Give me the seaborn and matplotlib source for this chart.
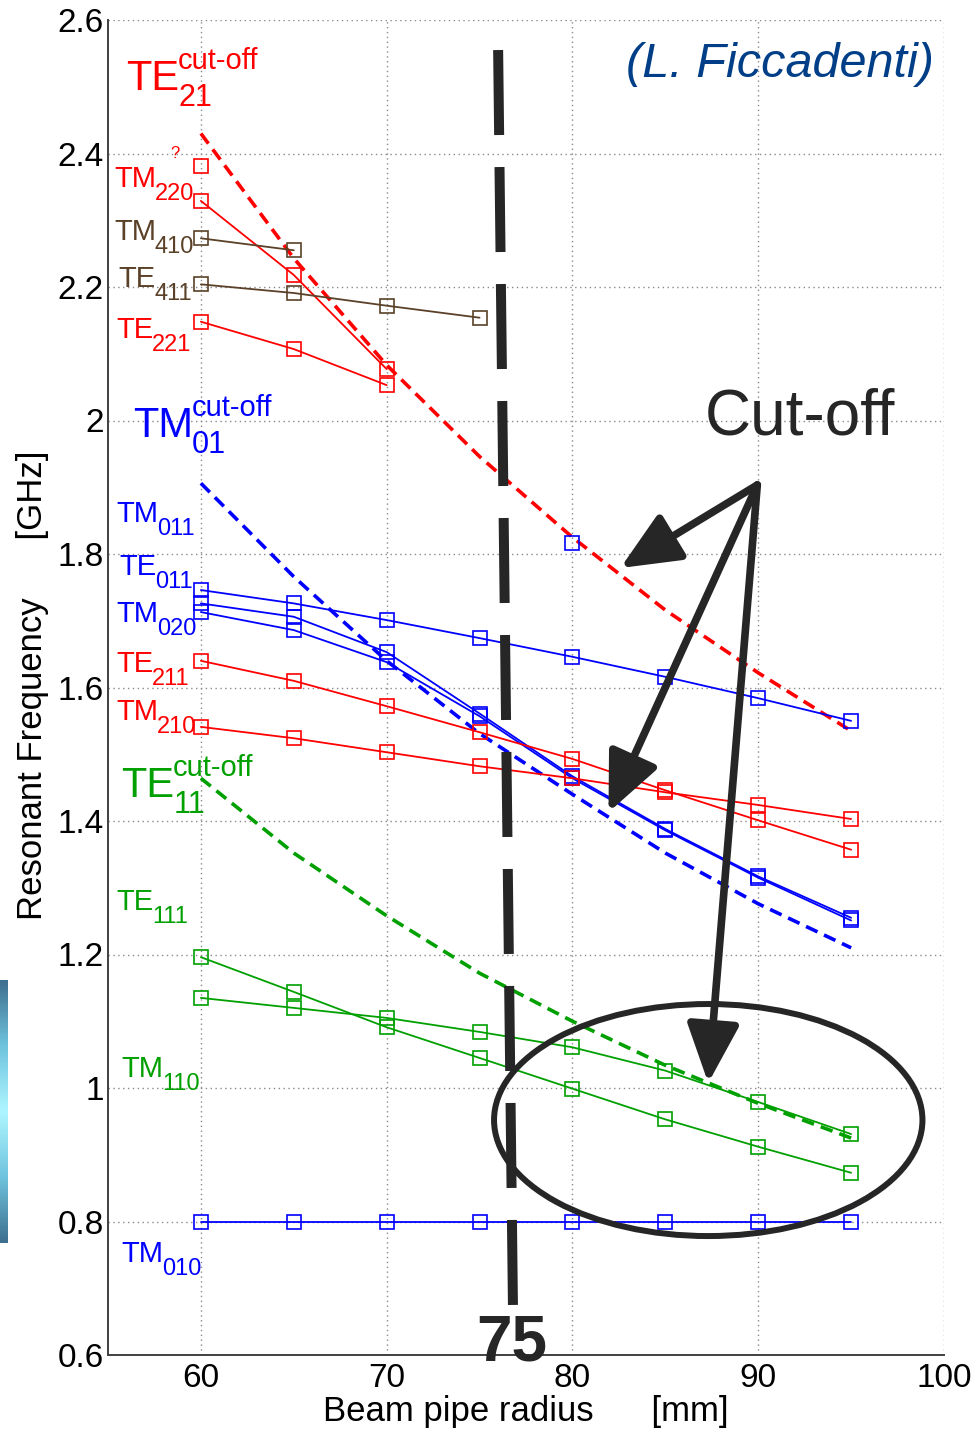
import numpy as np
import pandas as pd
import matplotlib
matplotlib.use("Agg")
import matplotlib.pyplot as plt
import matplotlib.transforms as mtrans
import seaborn as sns
from matplotlib.patches import Ellipse
from matplotlib.colors import LinearSegmentedColormap

# ---------------- data ----------------
radius = [60, 65, 70, 75, 80, 85, 90, 95]

cut_te21 = [2.430, 2.243, 2.083, 1.946, 1.825, 1.716, 1.622, 1.535]
cut_tm01 = [1.906, 1.766, 1.640, 1.531, 1.440, 1.352, 1.276, 1.210]
cut_te11 = [1.464, 1.352, 1.258, 1.172, 1.100, 1.034, 0.977, 0.925]

tm220_r = [60, 65, 70]
tm220 = [2.329, 2.218, 2.077]
tm220_q_r = [60]
tm220_q = [2.382]
tm410_r = [60, 65]
tm410 = [2.273, 2.255]
te411_r = [60, 65, 70, 75]
te411 = [2.204, 2.191, 2.172, 2.154]
te221_r = [60, 65, 70]
te221 = [2.148, 2.107, 2.053]
tm011_r = [80]
tm011 = [1.816]

blue_a = [1.746, 1.726, 1.701, 1.674, 1.646, 1.616, 1.584, 1.550]
blue_b = [1.726, 1.706, 1.653, 1.561, 1.467, 1.388, 1.317, 1.255]
blue_c = [1.713, 1.686, 1.638, 1.557, 1.464, 1.386, 1.315, 1.251]
te211 = [1.640, 1.610, 1.572, 1.533, 1.493, 1.446, 1.401, 1.357]
tm210 = [1.541, 1.524, 1.503, 1.482, 1.464, 1.443, 1.424, 1.403]
te111 = [1.196, 1.144, 1.091, 1.045, 0.999, 0.953, 0.912, 0.873]
tm110 = [1.135, 1.120, 1.105, 1.084, 1.061, 1.026, 0.979, 0.931]
tm010 = [0.800, 0.800, 0.800, 0.800, 0.800, 0.800, 0.800, 0.800]

marker_x = [76.0, 76.8]
marker_y = [2.555, 0.668]

x_ticks = [60, 70, 80, 90, 100]
y_ticks = [0.6, 0.8, 1.0, 1.2, 1.4, 1.6, 1.8, 2.0, 2.2, 2.4, 2.6]
y_ticklabels = ["0.6", "0.8", "1", "1.2", "1.4", "1.6", "1.8", "2", "2.2", "2.4", "2.6"]

RED = "#ff0000"
BLUE = "#0000ff"
GREEN = "#00a000"
BROWN = "#5a4128"
DARK = "#262626"

sns.set_theme(style="white")
plt.rcParams["font.family"] = ["Liberation Sans", "DejaVu Sans"]

fig = plt.figure(figsize=(9.8, 14.32), dpi=100)
ax = fig.add_axes([108 / 980, 1 - 1355 / 1432, (944 - 108) / 980, (1355 - 20) / 1432])

mk = dict(marker="s", markerfacecolor="none", markersize=9.5, markeredgewidth=1.2)


def mode(xs, ys, color, lw=1.3):
    sns.lineplot(x=xs, y=ys, ax=ax, color=color, lw=lw, markeredgecolor=color,
                 legend=False, **mk)


def cutoff(ys, color, lw=2.6):
    sns.lineplot(x=radius, y=ys, ax=ax, color=color, lw=lw, legend=False,
                 linestyle=(0, (3.5, 2.0)))


cutoff(cut_te21, RED)
cutoff(cut_tm01, BLUE)
cutoff(cut_te11, GREEN)

mode(tm220_r, tm220, RED)
ax.plot(tm220_q_r, tm220_q, color=RED, linestyle="none", markeredgecolor=RED, **mk)
mode(tm410_r, tm410, BROWN)
mode(te411_r, te411, BROWN)
mode(te221_r, te221, RED)
ax.plot(tm011_r, tm011, color=BLUE, linestyle="none", markeredgecolor=BLUE, **mk)
mode(radius, blue_a, BLUE)
mode(radius, blue_b, BLUE)
mode(radius, blue_c, BLUE)
mode(radius, te211, RED)
mode(radius, tm210, RED)
mode(radius, te111, GREEN)
mode(radius, tm110, GREEN)
mode(radius, tm010, BLUE)

# axes styling
ax.set_xlim(55, 100)
ax.set_ylim(0.6, 2.6)
ax.set_xticks(x_ticks)
ax.set_yticks(y_ticks)
ax.set_yticklabels(y_ticklabels)
ax.grid(True, linestyle=(0, (1, 2.5)), color="#8a8a8a", lw=1.0)
for s in ["top", "right"]:
    ax.spines[s].set_visible(False)
for s in ["left", "bottom"]:
    ax.spines[s].set_color("#404040")
    ax.spines[s].set_linewidth(1.4)
ax.tick_params(axis="both", direction="in", length=8, width=1.0, color="#404040",
               labelsize=24, labelcolor="black")
ax.tick_params(axis="y", pad=3)
ax.tick_params(axis="x", pad=6)
ax.set_xlabel("Beam pipe radius      [mm]", fontsize=25, color="black")
ax.set_ylabel("Resonant Frequency      [GHz]", fontsize=25, color="black")
ax.xaxis.set_label_coords(0.5, -0.030)
ax.yaxis.set_label_coords(-0.070, 0.502)

# mode labels: main text + subscript (+ superscript)
renderer = fig.canvas.get_renderer()


def mode_label(x, y, main, sub, color, big=False, sup=None):
    fs = 30 if big else 21
    sfs = 22 if big else 17
    drop = 16 if big else 13
    t = ax.text(x, y, main, color=color, fontsize=fs, ha="left", va="baseline")
    w = t.get_window_extent(renderer).width
    tr_sub = mtrans.offset_copy(ax.transData, fig=fig, x=w - 1, y=-drop, units="dots")
    ax.text(x, y, sub, color=color, fontsize=sfs, ha="left", va="baseline",
            transform=tr_sub)
    if sup:
        tr_sup = mtrans.offset_copy(ax.transData, fig=fig, x=w - 1, y=21, units="dots")
        ax.text(x, y, sup, color=color, fontsize=21, ha="left", va="baseline",
                transform=tr_sup)


labels = [
    ("TE", "21", 55.97, 2.495, RED, True, "cut-off"),
    ("TM", "220", 55.32, 2.350, RED, False, None),
    ("TM", "410", 55.32, 2.270, BROWN, False, None),
    ("TE", "411", 55.54, 2.200, BROWN, False, None),
    ("TE", "221", 55.43, 2.124, RED, False, None),
    ("TM", "01", 56.34, 1.975, BLUE, True, "cut-off"),
    ("TM", "011", 55.43, 1.848, BLUE, False, None),
    ("TE", "011", 55.59, 1.769, BLUE, False, None),
    ("TM", "020", 55.43, 1.698, BLUE, False, None),
    ("TE", "211", 55.43, 1.623, RED, False, None),
    ("TM", "210", 55.43, 1.551, RED, False, None),
    ("TE", "11", 55.70, 1.436, GREEN, True, "cut-off"),
    ("TE", "111", 55.43, 1.267, GREEN, False, None),
    ("TM", "110", 55.70, 1.017, GREEN, False, None),
    ("TM", "010", 55.70, 0.739, BLUE, False, None),
]
for main, sub, lx, ly, c, big, sup in labels:
    mode_label(lx, ly, main, sub, c, big=big, sup=sup)
ax.text(58.6, 2.40, "?", color=RED, fontsize=12, ha="center", va="center")

# annotations
ax.text(99.46, 2.534, "(L. Ficcadenti)", color="#003f87", fontsize=35,
        style="italic", ha="right", va="center")
ax.text(92.26, 2.004, "Cut-off", color=DARK, fontsize=46, ha="center", va="center")

ax.plot(marker_x, marker_y, color=DARK, lw=7.2, linestyle=(0, (8.5, 3.2)),
        solid_capstyle="butt", dash_capstyle="butt", clip_on=False)
ax.text(76.72, 0.6165, "75", color=DARK, fontsize=46, fontweight="bold",
        ha="center", va="center", clip_on=False, zorder=10)

ax.add_patch(Ellipse((87.31, 0.952), 23.06, 0.3476, fill=False, lw=4.3,
                     edgecolor=DARK, zorder=6))

origin = (89.95, 1.9034)
for tip in [(82.58, 1.779), (81.94, 1.413), (87.31, 1.0075)]:
    ax.annotate("", xy=tip, xytext=origin,
                arrowprops=dict(arrowstyle="-|>,head_length=1.8,head_width=0.8",
                                color=DARK, lw=5.5, mutation_scale=20,
                                shrinkA=0, shrinkB=0), zorder=7)

# left-edge gradient strip
gax = fig.add_axes([0, 1 - 1243 / 1432, 7 / 980, (1243 - 980) / 1432])
grad = np.abs(np.linspace(-1, 1, 200))[:, None]
cmap = LinearSegmentedColormap.from_list("g", ["#aef6ff", "#6fc3de", "#3e6f8f"])
gax.imshow(grad, aspect="auto", cmap=cmap)
gax.axis("off")

fig.savefig("out.png", dpi=100)
